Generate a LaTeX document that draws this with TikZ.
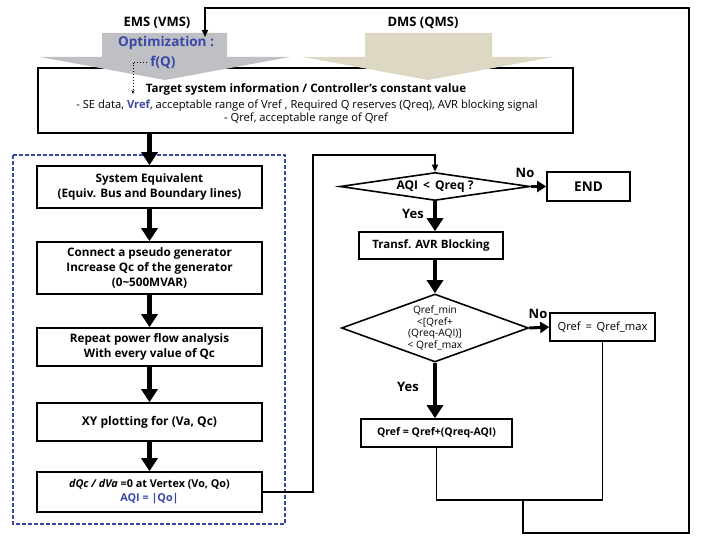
\documentclass[tikz,border=0pt]{standalone}
\usepackage{fontspec}
\setmainfont{Open Sans}
\usetikzlibrary{arrows.meta,positioning,shapes.geometric}

\definecolor{emsgray}{RGB}{191,192,196}
\definecolor{dmsbeige}{RGB}{221,216,196}
\definecolor{optblue}{RGB}{58,72,168}

\tikzset{
    stepbox/.style={draw,line width=1.6pt,fill=white,align=center,inner sep=0pt,
        font=\fontsize{11.7}{15}\selectfont\bfseries},
    decide/.style={draw,line width=1.6pt,fill=white,align=center,inner sep=0pt,
        diamond,font=\fontsize{12}{13}\selectfont\bfseries},
    bigarrow/.style={line width=4.5pt,-{Triangle[length=13pt,width=16pt]}},
    noarrow/.style={line width=3pt,-{Triangle[length=9pt,width=11pt]}},
    flow/.style={line width=1.4pt},
    answer/.style={font=\fontsize{13}{14}\selectfont\bfseries},
}

\begin{document}
\begin{tikzpicture}[x=1pt,y=-1pt]
        \useasboundingbox (0,0) rectangle (703,537);
        % input box and management arrows
            \node[stepbox,minimum width=535pt,minimum height=65pt] (target) at (305.5,100.5) {};
            \fill[emsgray] (102,33) -- (227,33) -- (227,57) -- (290,57) -- (165,80) -- (40,57) -- (102,57) -- cycle;
            \fill[dmsbeige] (365,33) -- (492,33) -- (492,57) -- (553,57) -- (428,80) -- (303,57) -- (365,57) -- cycle;
            \node[font=\fontsize{13}{14}\selectfont\bfseries] (ems) at (157,23) {EMS (VMS)};
            \node[font=\fontsize{13}{14}\selectfont\bfseries] (dms) at (423,23) {DMS (QMS)};
            \node[font=\fontsize{13.5}{14}\selectfont\bfseries,text=optblue] (optim) at (166,43) {Optimization :};
            \node[font=\fontsize{13.5}{14}\selectfont\bfseries,text=optblue] (fq) at (163,62) {f(Q)};
            \node[font=\fontsize{11.6}{12}\selectfont\bfseries] (info) at (306,89) {Target system information / Controller’s constant value};
            \node[font=\fontsize{11.2}{12}\selectfont] (sedata) at (307,106) {- SE data, \textbf{\color{optblue}Vref}, acceptable range of Vref , Required Q reserves (Qreq), AVR blocking signal};
            \node[font=\fontsize{11.2}{12}\selectfont] (qrange) at (306,119) {- Qref, acceptable range of Qref};
            \coordinate (dotend) at (133,94);
            \draw[dotted,line width=0.9pt,-{Stealth[length=4pt]}] (fq.west) -| (dotend);
        % equivalent (VMS) steps
            \draw[optblue,line width=1.4pt,dash pattern=on 4pt off 2pt] (13,155) rectangle (285,524);
            \node[stepbox,minimum width=225pt,minimum height=42pt] (syseq) at (149.5,187) {System Equivalent\\(Equiv. Bus and Boundary lines)};
            \node[stepbox,minimum width=225pt,minimum height=52pt] (pseudo) at (149.5,268) {Connect a pseudo generator\\Increase Qc of the generator\\(0\textasciitilde500MVAR)};
            \node[stepbox,minimum width=225pt,minimum height=38pt] (repeat) at (149.5,347) {Repeat power flow analysis\\With every value of Qc};
            \node[stepbox,minimum width=225pt,minimum height=38pt,font=\fontsize{12}{15}\selectfont\bfseries] (xyplot) at (149.5,422) {XY plotting for (Va, Qc)};
            \node[stepbox,minimum width=225pt,minimum height=40pt,font=\fontsize{10.8}{14}\selectfont\bfseries] (vertex) at (149.5,492) {\textit{dQc / dVa} =0 at Vertex (Vo, Qo)\\\textcolor{optblue}{AQI = |Qo|}};
            \draw[bigarrow] (syseq.north |- target.south) -- (syseq.north);
            \foreach \a/\b in {syseq/pseudo,pseudo/repeat,repeat/xyplot,xyplot/vertex}{
                \draw[bigarrow] (\a) -- (\b);
            }
        % reference (QMS) steps
            \node[decide,minimum width=190pt,minimum height=28pt,aspect=6.8] (aqi) at (435,186.5) {AQI \,<\, Qreq ?};
            \node[stepbox,minimum width=83pt,minimum height=29pt,font=\fontsize{13.5}{14}\selectfont\bfseries] (finish) at (588.5,186.5) {END};
            \node[stepbox,minimum width=144pt,minimum height=27pt,font=\fontsize{11.5}{12}\selectfont\bfseries] (transf) at (431,245.5) {Transf. AVR Blocking};
            \node[decide,minimum width=187pt,minimum height=68pt,aspect=2.75,font=\fontsize{10.2}{11.5}\selectfont] (limits) at (435,328) {Qref\_min\\<[Qref+\\(Qreq-AQI)]\\< Qref\_max};
            \node[stepbox,minimum width=105pt,minimum height=28pt,font=\fontsize{11.2}{12}\selectfont] (qmax) at (602.5,327) {Qref \,=\, Qref\_max};
            \node[stepbox,minimum width=151pt,minimum height=28pt,font=\fontsize{10.5}{12}\selectfont\bfseries] (qset) at (436.5,433) {Qref = Qref+(Qreq-AQI)};
            \draw[bigarrow] (aqi.south) -- (aqi.south |- transf.north);
            \draw[bigarrow] (aqi.south |- transf.south) -- (limits.north);
            \draw[bigarrow] (limits.south) -- (limits.south |- qset.north);
            \draw[noarrow] (aqi.east) -- (finish.west);
            \draw[noarrow] (limits.east) -- (qmax.west);
        % connectors
            \coordinate (bend) at (313,155);
            \draw[flow,-{Triangle[length=7pt,width=6pt]}] (vertex.east) -| (bend) -| (aqi.north);
            \coordinate (merge) at (523,500);
            \coordinate (loopr) at (689,533);
            \coordinate (looptop) at (205,8);
            \coordinate (loopend) at (205,37);
            \draw[flow] (qset.south) |- (merge) -| (qmax.south);
            \draw[flow,-{Triangle[length=7pt,width=6pt]}] (merge) |- (loopr) |- (looptop) -- (loopend);
        % labels
            \node[answer] (no1) at (525,173) {No};
            \node[answer] (yes1) at (413,214) {Yes};
            \node[answer] (no2) at (538,314) {No};
            \node[answer] (yes2) at (408,387) {Yes};
        \end{tikzpicture}
\end{document}
